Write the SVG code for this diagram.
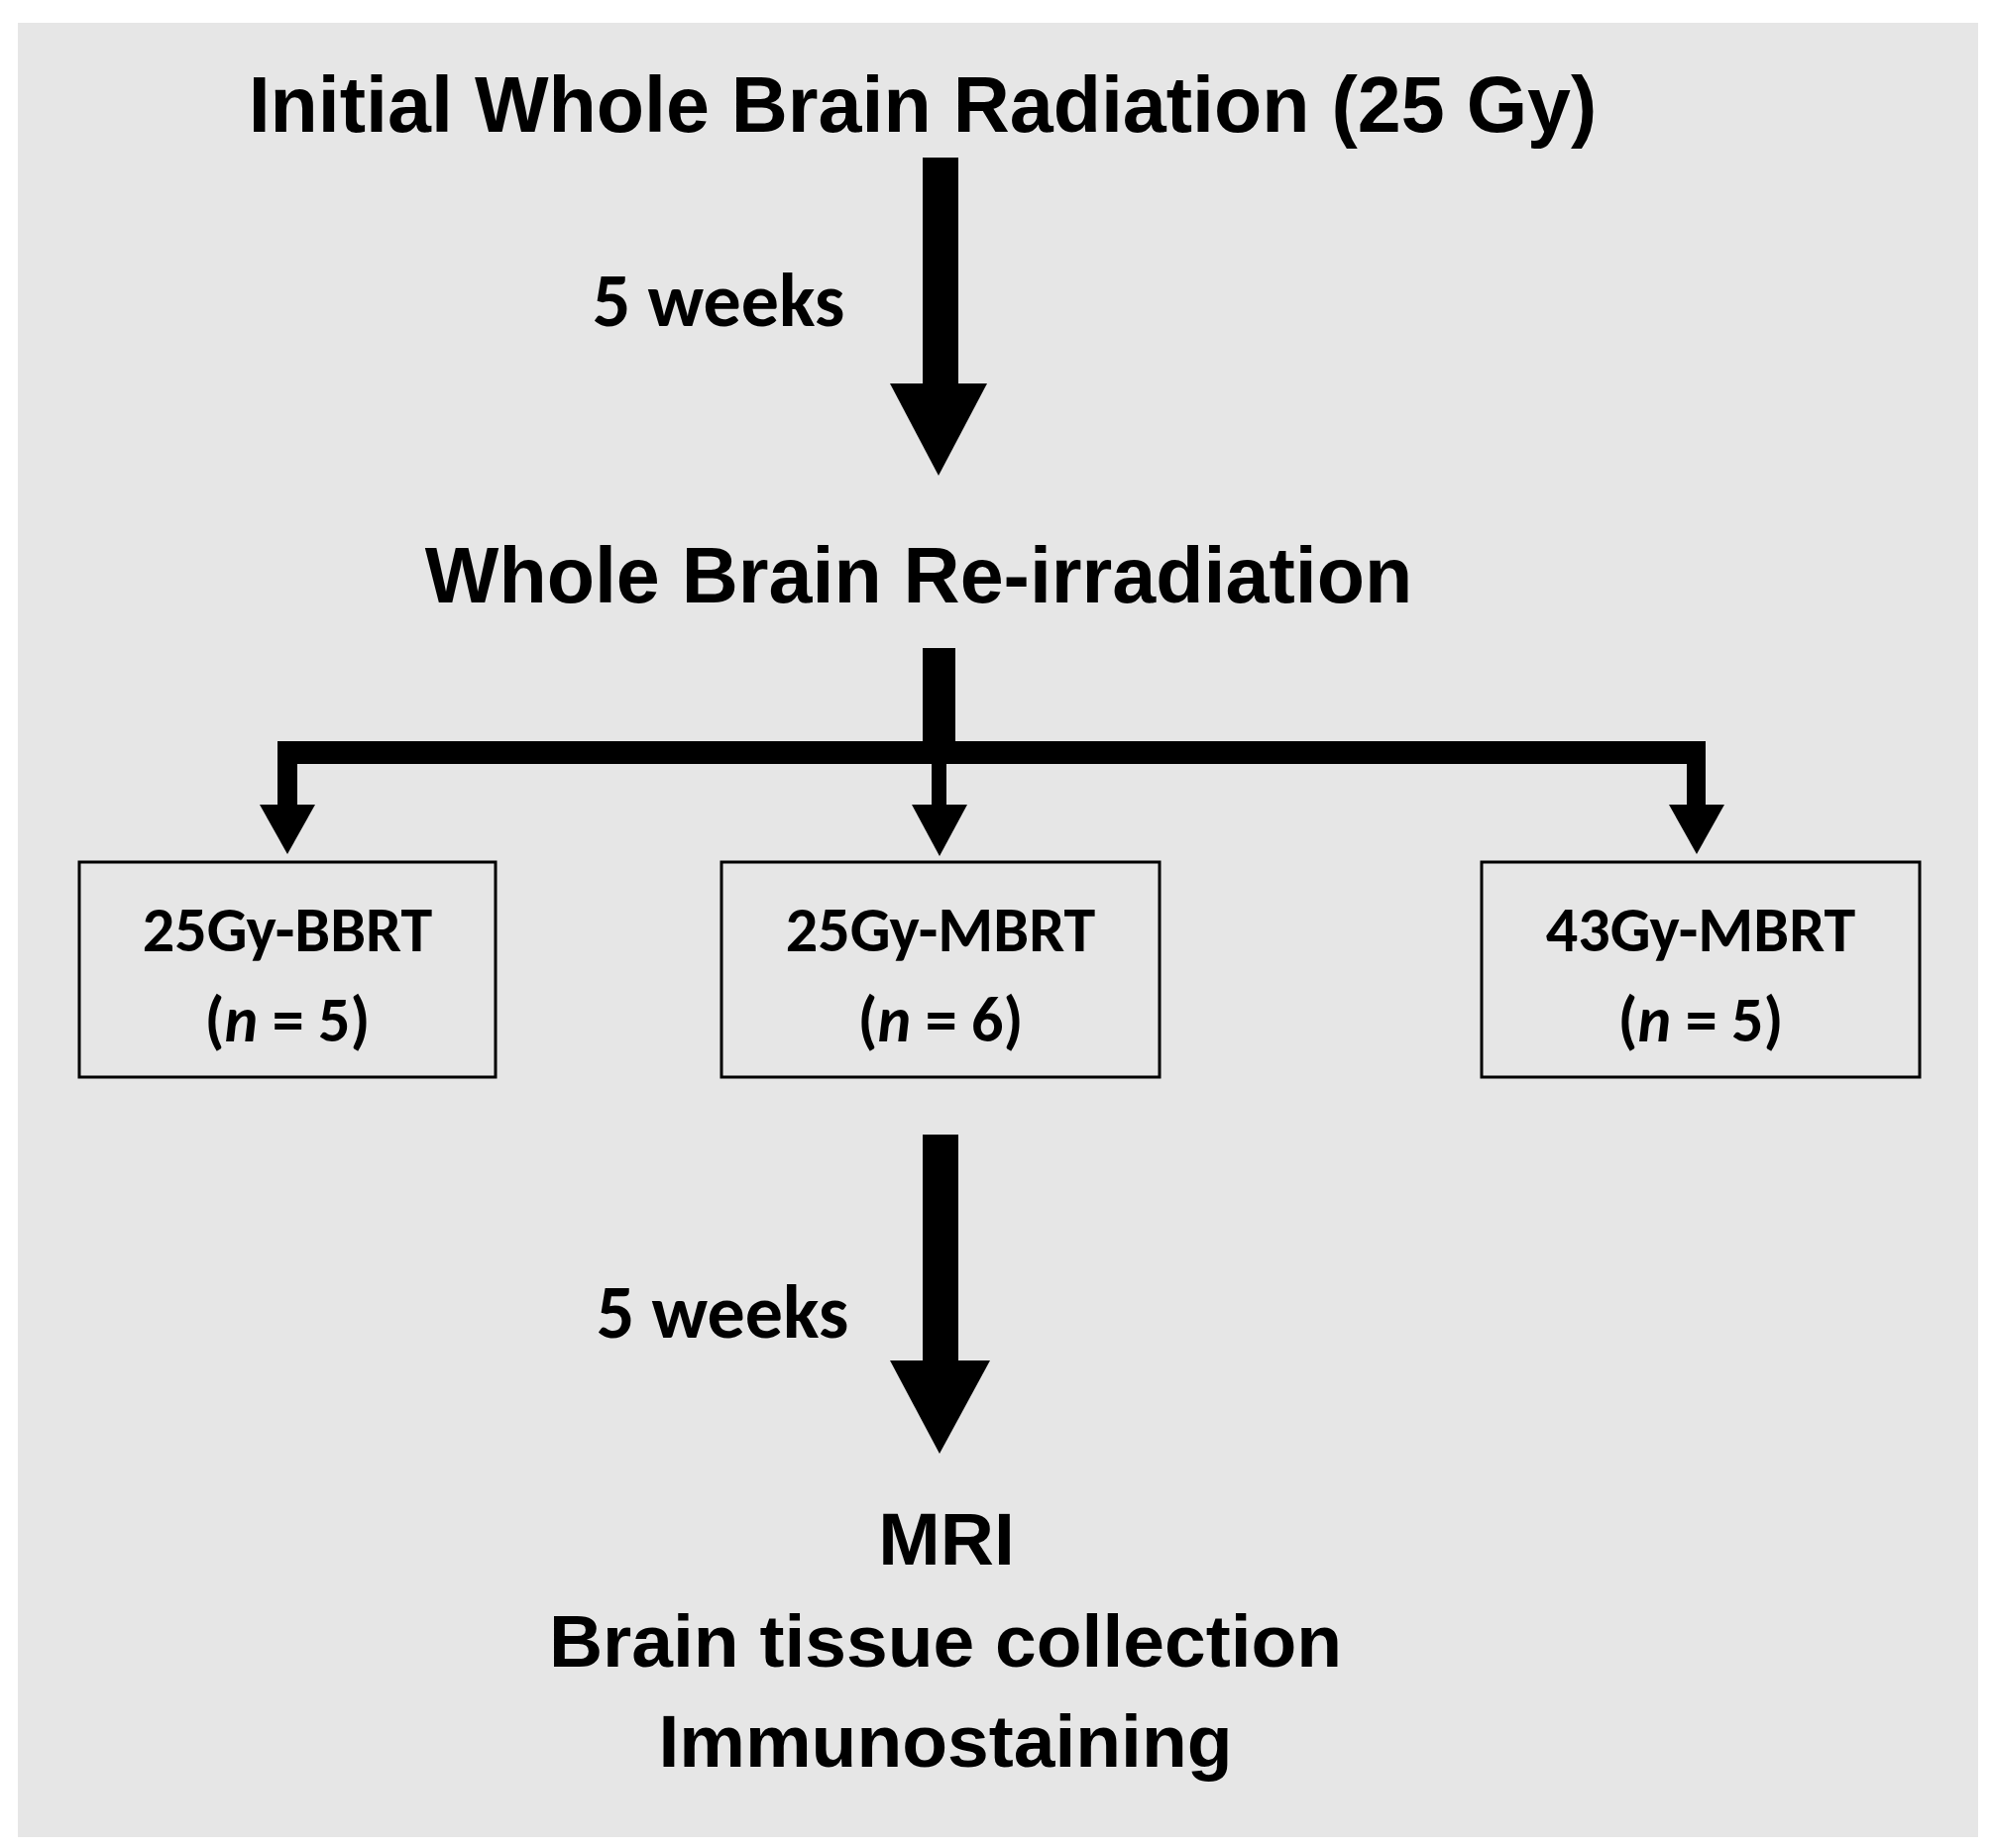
<svg xmlns="http://www.w3.org/2000/svg" width="2011" height="1865" viewBox="0 0 2011 1865">
<style>
.t{font-family:"Liberation Sans",Arial,sans-serif;font-weight:bold;fill:#000;text-anchor:middle}
.b{font-family:Carlito,"Open Sans","Liberation Sans",sans-serif;font-weight:bold;fill:#000;text-anchor:middle;font-size:64px}
.box{fill:none;stroke:#000;stroke-width:3}
</style>
<rect width="2011" height="1865" fill="#fff"/>
<rect x="18" y="23" width="1978" height="1831" fill="#e6e6e6"/>
<g id="n-initial"><text class="t" x="931" y="133" font-size="79">Initial Whole Brain Radiation (25 Gy)</text></g>
<g id="n-reirr"><text class="t" x="927" y="608" font-size="79">Whole Brain Re-irradiation</text></g>
<g id="n-bbrt"><rect class="box" x="80" y="870" width="420" height="217"/><text class="b" x="290" y="960">25Gy-BBRT</text><text class="b" x="290" y="1051">(<tspan font-style="italic">n</tspan> = 5)</text></g>
<g id="n-mbrt25"><rect class="box" x="728" y="870" width="442" height="217"/><text class="b" x="949" y="960">25Gy-MBRT</text><text class="b" x="949" y="1051">(<tspan font-style="italic">n</tspan> = 6)</text></g>
<g id="n-mbrt43"><rect class="box" x="1495" y="870" width="442" height="217"/><text class="b" x="1716" y="960">43Gy-MBRT</text><text class="b" x="1716" y="1051">(<tspan font-style="italic">n</tspan> = 5)</text></g>
<g id="n-final"><text class="t" x="955" y="1579" font-size="75">MRI</text><text class="t" x="954" y="1682" font-size="75">Brain tissue collection</text><text class="t" x="954" y="1783" font-size="75">Immunostaining</text></g>
<g id="connectors" fill="#000">
<rect x="931" y="159" width="36" height="230"/><polygon points="898,387 996,387 947,480"/>
<text class="b" x="725" y="329" font-size="76" style="font-size:76px">5 weeks</text>
<rect x="931" y="654" width="33" height="100"/>
<rect x="280" y="748" width="1441" height="23"/>
<rect x="280" y="760" width="20" height="55"/><polygon points="262,812 318,812 290,862"/>
<rect x="940" y="760" width="15" height="55"/><polygon points="920,812 976,812 948,864"/>
<rect x="1702" y="760" width="19" height="55"/><polygon points="1684,812 1740,812 1712,862"/>
<rect x="931" y="1145" width="36" height="230"/><polygon points="898,1373 999,1373 948,1467"/>
<text class="b" x="729" y="1350" style="font-size:76px">5 weeks</text>
</g>
</svg>
